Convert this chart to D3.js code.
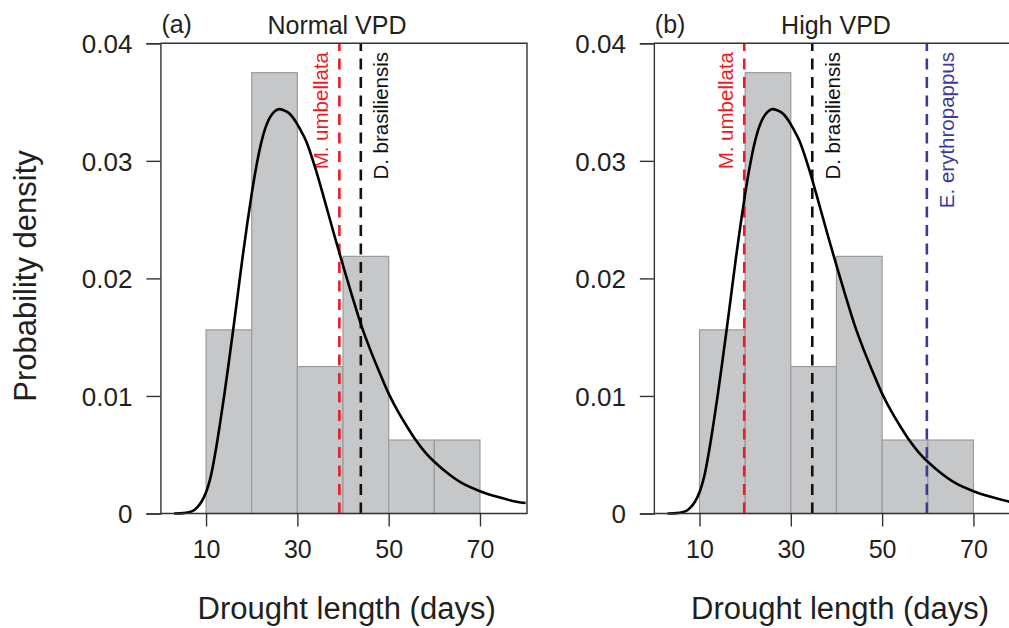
<!DOCTYPE html>
<html>
<head>
<meta charset="utf-8">
<script src="https://cdn.jsdelivr.net/npm/d3@7"></script>
<style>
  html, body { margin: 0; padding: 0; background: #ffffff; }
  svg { display: block; font-family: "Liberation Sans", Arial, sans-serif; }
</style>
</head>
<body>
<svg id="chart" width="1009" height="628"></svg>
<script>
// ---------- data ----------
const binEdges = [10, 20, 30, 40, 50, 60, 70];
const binDensity = [0.015625, 0.0375, 0.0125, 0.021875, 0.00625, 0.00625];

// fitted density curve (days, density)
const curveDays = [3, 5, 7, 8, 9, 10, 11, 12, 13, 14, 15, 16, 17, 18, 19, 20, 21, 22, 23, 24, 25, 26, 27, 28, 29, 30,
                   31, 32, 34, 36, 38, 40, 42, 44, 46, 48, 50, 52, 54, 56, 58, 60, 63, 66, 70, 74, 78, 80];
const curveDensity = [0, 0.00003, 0.0002, 0.0005, 0.0010, 0.0018, 0.0031, 0.0051, 0.0075, 0.0101, 0.0129, 0.0158,
                      0.0188, 0.0218, 0.0246, 0.0272, 0.0295, 0.0314, 0.0328, 0.0337, 0.0342, 0.0344, 0.0343, 0.0341,
                      0.0337, 0.0331, 0.0324, 0.0316, 0.0293, 0.0266, 0.0238, 0.0211, 0.0185, 0.0160, 0.0139, 0.0120,
                      0.0102, 0.0087, 0.0074, 0.0062, 0.0052, 0.0044, 0.0034, 0.0026, 0.0019, 0.0014, 0.0010, 0.0009];

const xTicks = [10, 30, 50, 70];
const yTicks = [0, 0.01, 0.02, 0.03, 0.04];
const yTickLabels = ["0", "0.01", "0.02", "0.03", "0.04"];

const panelLetters = ["(a)", "(b)"];
const panelTitles = ["Normal VPD", "High VPD"];
const speciesA = ["M. umbellata", "D. brasiliensis"];
const speciesAValues = [39.2, 43.9];
const speciesB = ["M. umbellata", "D. brasiliensis", "E. erythropappus"];
const speciesBValues = [19.8, 34.7, 59.8];
const speciesColor = { "M. umbellata": "#ec1c24", "D. brasiliensis": "#111111", "E. erythropappus": "#3b3a96" };
const speciesSide = { "M. umbellata": "left", "D. brasiliensis": "right", "E. erythropappus": "right" };

// ---------- drawing ----------
const svg = d3.select("#chart");
const textColor = "#231f20";
const axisColor = "#333333";
const yTop = 43.3, yBottom = 513.5;
const pxPerUnit = 366.6;

const y = d3.scaleLinear().domain([0, 0.04]).range([yBottom, yTop]);

function drawPanel(i, x0, speciesNames, speciesValues) {
  const x = d3.scaleLinear().domain([0, 80.3]).range([x0, x0 + pxPerUnit]);
  const g = svg.append("g");

  const bins = binDensity.map((d, k) => ({ x0: binEdges[k], x1: binEdges[k + 1], d }));
  g.selectAll("rect.bar").data(bins).enter().append("rect")
    .attr("class", "bar")
    .attr("x", d => x(d.x0))
    .attr("y", d => y(d.d))
    .attr("width", d => x(d.x1) - x(d.x0))
    .attr("height", d => y(0) - y(d.d))
    .attr("fill", "#c6c7c9")
    .attr("stroke", "#9a9b9d")
    .attr("stroke-width", 1.2);

  // species dashed lines
  speciesNames.forEach((name, k) => {
    const xv = x(speciesValues[k]);
    g.append("line")
      .attr("x1", xv).attr("x2", xv)
      .attr("y1", y(0)).attr("y2", yTop)
      .attr("stroke", speciesColor[name])
      .attr("stroke-width", 2.6)
      .attr("stroke-dasharray", "11,7.5");
    const bx = speciesSide[name] === "left" ? xv - 11 : xv + 27.5;
    g.append("text")
      .attr("transform", `translate(${bx},52) rotate(-90)`)
      .attr("text-anchor", "end")
      .attr("font-size", 20.5)
      .attr("fill", speciesColor[name])
      .text(name);
  });

  // density curve
  const pts = curveDays.map((d, k) => [d, curveDensity[k]]);
  g.append("path")
    .datum(pts)
    .attr("fill", "none")
    .attr("stroke", "#000")
    .attr("stroke-width", 2.6)
    .attr("d", d3.line().x(d => x(d[0])).y(d => y(d[1])).curve(d3.curveCatmullRom.alpha(0.5)));

  // box lines
  const xr = x0 + pxPerUnit;
  g.append("path")
    .attr("d", `M${x0},${yTop}H${xr}V${yBottom}H${x0}`)
    .attr("fill", "none").attr("stroke", axisColor).attr("stroke-width", 1.4);

  // y axis
  const yAxis = g.append("g").attr("transform", `translate(${x0},0)`)
    .call(d3.axisLeft(y).tickValues(yTicks).tickSize(14).tickSizeOuter(14).tickPadding(14)
      .tickFormat((d, k) => yTickLabels[k]));
  yAxis.selectAll("path, line").attr("stroke", axisColor).attr("stroke-width", 1.4);
  yAxis.selectAll("text").attr("font-size", 26).attr("fill", textColor)
    .attr("font-family", "Liberation Sans, Arial, sans-serif").attr("dy", "0.36em");

  // x axis
  const xAxis = g.append("g").attr("transform", `translate(0,${yBottom})`)
    .call(d3.axisBottom(x).tickValues(xTicks).tickSize(13).tickPadding(13.5));
  xAxis.select(".domain").remove();
  xAxis.selectAll("line").attr("stroke", axisColor).attr("stroke-width", 1.4);
  xAxis.selectAll("text").attr("font-size", 25).attr("fill", textColor)
    .attr("font-family", "Liberation Sans, Arial, sans-serif");

  // x title
  g.append("text")
    .attr("x", x(40.8)).attr("y", 619)
    .attr("text-anchor", "middle")
    .attr("font-size", 31).attr("fill", textColor)
    .text("Drought length (days)");

  // panel letter
  g.append("text")
    .attr("x", x0 + 1).attr("y", 33)
    .attr("font-size", 25).attr("fill", textColor)
    .text(panelLetters[i]);
  return x;
}

const xa = drawPanel(0, 160.4, speciesA, speciesAValues);
const xb = drawPanel(1, 653.85, speciesB, speciesBValues);

svg.append("text").attr("x", 337).attr("y", 33.5).attr("text-anchor", "middle")
  .attr("font-size", 25).attr("fill", textColor).text(panelTitles[0]);
svg.append("text").attr("x", 836).attr("y", 33.5).attr("text-anchor", "middle")
  .attr("font-size", 25).attr("fill", textColor).text(panelTitles[1]);

// y title
svg.append("text")
  .attr("transform", "translate(36,276) rotate(-90)")
  .attr("text-anchor", "middle")
  .attr("font-size", 31).attr("fill", textColor)
  .text("Probability density");
</script>
</body>
</html>
